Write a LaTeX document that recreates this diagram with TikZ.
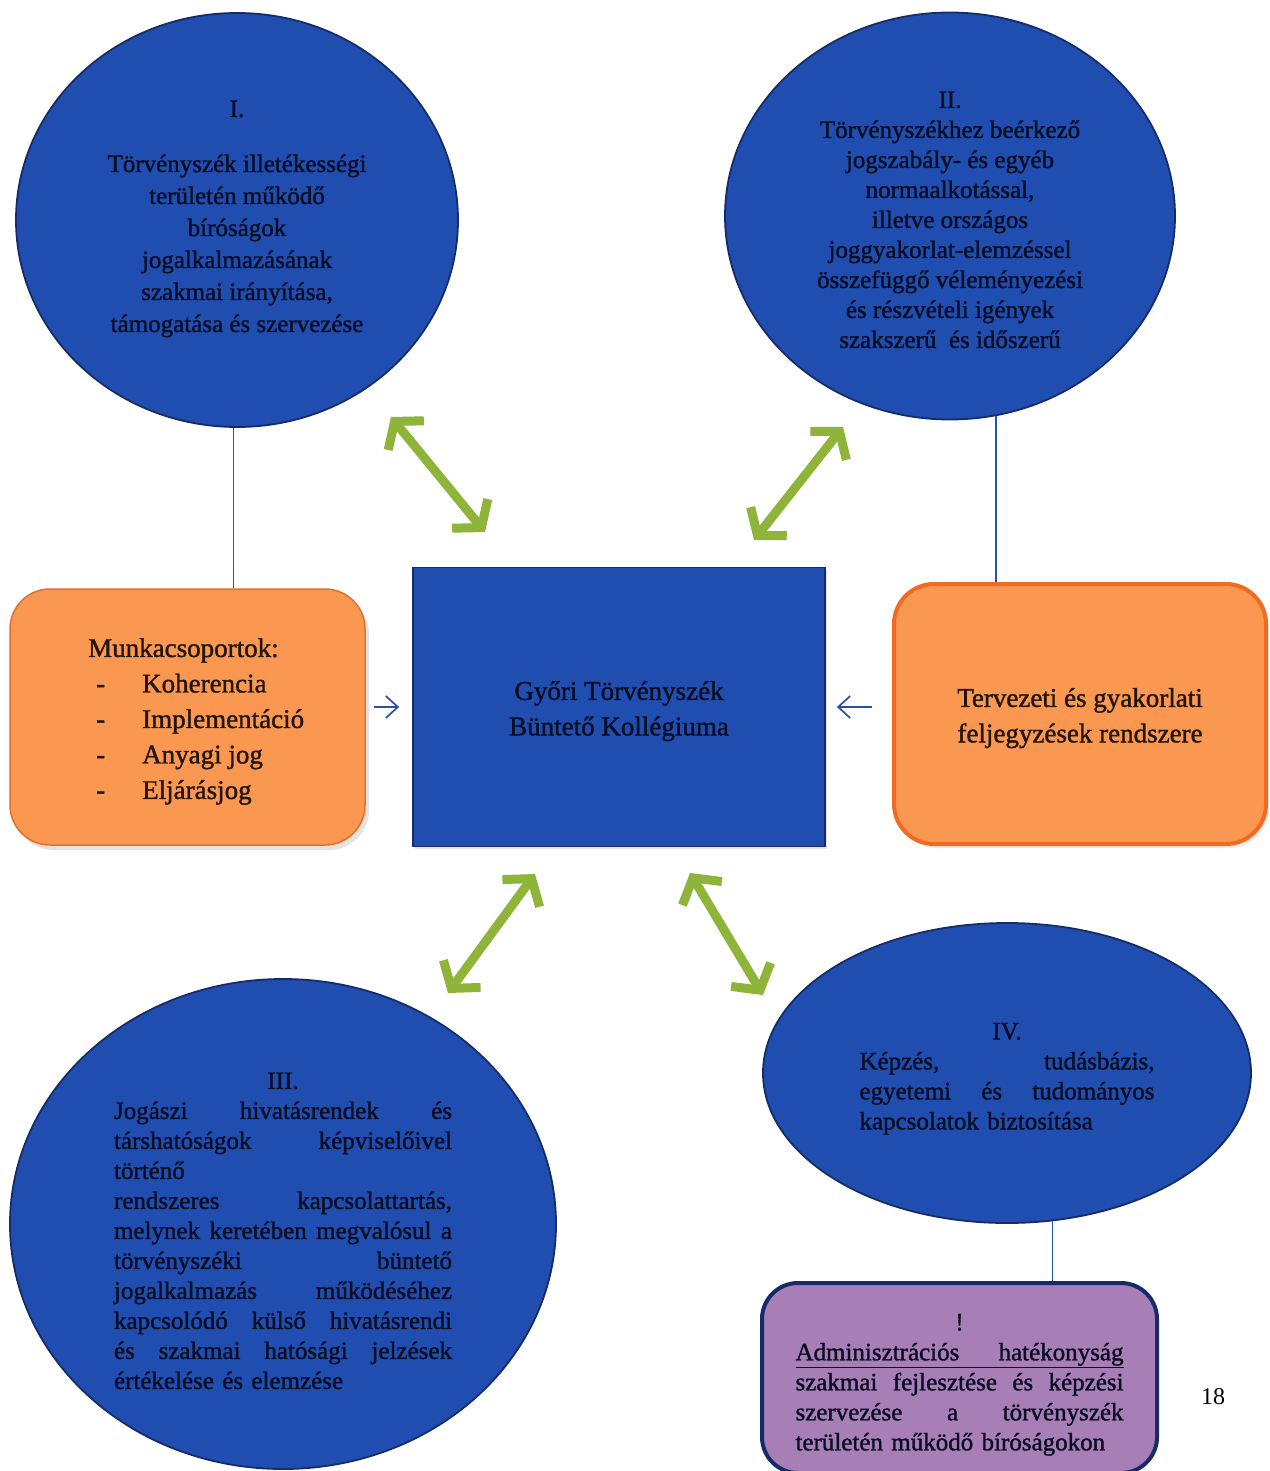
\documentclass[tikz,border=0pt]{standalone}
\usepackage{fontspec}
\setmainfont{Liberation Serif}
\newfontfamily\hvy{Liberation Serif}[FakeBold=1.4]
\usetikzlibrary{shapes.geometric,arrows.meta,shadows}
\definecolor{cblue}{RGB}{31,78,176}
\definecolor{cnavy}{RGB}{22,44,105}
\definecolor{ctxt}{RGB}{10,14,36}
\definecolor{corange}{RGB}{250,152,82}
\definecolor{corangeB}{RGB}{226,112,42}
\definecolor{corangeR}{RGB}{242,106,32}
\definecolor{cgreen}{RGB}{142,180,58}
\definecolor{cpurple}{RGB}{168,126,183}
\definecolor{cline}{RGB}{40,80,165}
\definecolor{cobtxt}{RGB}{35,22,12}
\newcommand{\st}[1]{\rule{0pt}{#1}}
\newcommand{\jl}[2]{\makebox[#1][s]{#2}}
\tikzset{
  bell/.style={ellipse, fill=cblue, draw=cnavy, line width=1.8pt, inner sep=0pt, text=ctxt},
  ctxtnode/.style={text=ctxt, align=center, inner sep=0pt},
  obox/.style={rectangle, rounded corners=40pt, fill=corange, inner sep=0pt},
  crect/.style={rectangle, fill=cblue, draw=cnavy, line width=1.8pt, inner sep=0pt},
  pbox/.style={rectangle, rounded corners=36pt, fill=cpurple, draw=cnavy, line width=4pt, inner sep=0pt, text=ctxt},
  vline/.style={draw=cline, line width=1.6pt},
  garrow/.style={draw=cgreen, line width=9pt, {Straight Barb[length=18pt,width=46pt]}-{Straight Barb[length=18pt,width=46pt]}},
  barrow/.style={draw=cline, line width=1.7pt, -{Straight Barb[length=12pt,width=22pt]}},
  fcirc/.style={font=\hvy\fontsize{25}{30}\selectfont},
  fbox/.style={font=\hvy\fontsize{27}{35.5}\selectfont}
}
\begin{document}
\begin{tikzpicture}[x=1pt,y=-1pt]
\useasboundingbox (0,0) rectangle (1269,1471);
\clip (0,0) rectangle (1269,1471);
\fill[white] (0,0) rectangle (1269,1471);

% top circles
\node[bell, minimum width=442pt, minimum height=414pt] (cI) at (237,220) {};
\node[ctxtnode, font=\hvy\fontsize{25}{32}\selectfont] (tI) at (237,219)
 {I.\\[23pt]Törvényszék illetékességi\\területén működő\\bíróságok\\jogalkalmazásának\\szakmai irányítása,\\támogatása és szervezése};

\node[bell, fcirc, align=center, minimum width=450pt, minimum height=407pt] (cII) at (950,216)
 {\st{24pt}II.\\Törvényszékhez beérkező\\jogszabály- és egyéb\\normaalkotással,\\illetve országos\\joggyakorlat-elemzéssel\\összefüggő véleményezési\\és részvételi igények\\szakszerű\ \ és időszerű};

% middle row
\node[obox, draw=corangeB, line width=1.5pt, minimum width=355pt, minimum height=256pt,
      drop shadow={shadow xshift=4pt, shadow yshift=-5pt, opacity=0.22}] (bL) at (187.5,717) {};
\node[fbox, text=cobtxt, align=left, anchor=west, inner sep=0pt] (tL) at (88,721.5)
 {Munkacsoportok:\\
  \makebox[54pt][l]{\hspace{8pt}-}Koherencia\\
  \makebox[54pt][l]{\hspace{8pt}-}Implementáció\\
  \makebox[54pt][l]{\hspace{8pt}-}Anyagi jog\\
  \makebox[54pt][l]{\hspace{8pt}-}Eljárásjog};

\node[crect, fbox, text=ctxt, align=center, minimum width=412pt, minimum height=279pt,
      drop shadow={shadow xshift=2pt, shadow yshift=-2pt, opacity=0.2}] (ctr) at (619,707)
 {\st{27pt}Győri Törvényszék\\Büntető Kollégiuma};

\node[obox, draw=corangeR, line width=4pt, fbox, text=cobtxt, align=center, minimum width=372pt, minimum height=260pt,
      drop shadow={shadow xshift=3pt, shadow yshift=-4pt, opacity=0.15}] (bR) at (1080,714)
 {\st{27pt}Tervezeti és gyakorlati\\feljegyzések rendszere};

% bottom circles
\node[bell, fcirc, align=left, text width=338pt, minimum width=546pt, minimum height=490pt] (cIII) at (283,1224)
 {\jl{338pt}{\hfill\st{30pt}III.\hfill}\\
  \jl{338pt}{Jogászi\hfill hivatásrendek\hfill és}\\
  \jl{338pt}{társhatóságok\hfill képviselőivel}\\
  történő\\
  \jl{338pt}{rendszeres\hfill kapcsolattartás,}\\
  \jl{338pt}{melynek\hfill keretében\hfill megvalósul\hfill a}\\
  \jl{338pt}{törvényszéki\hfill büntető}\\
  \jl{338pt}{jogalkalmazás\hfill működéséhez}\\
  \jl{338pt}{kapcsolódó\hfill külső\hfill hivatásrendi}\\
  \jl{338pt}{és\hfill szakmai\hfill hatósági\hfill jelzések}\\
  értékelése és elemzése};

\node[bell, fcirc, align=left, text width=295pt, minimum width=488pt, minimum height=300pt] (cIV) at (1007,1073)
 {\jl{295pt}{\hfill\st{28pt}IV.\hfill}\\
  \jl{295pt}{Képzés,\hfill tudásbázis,}\\
  \jl{295pt}{egyetemi\hfill és\hfill tudományos}\\
  kapcsolatok biztosítása};

\node[pbox, fcirc, align=left, text width=328pt, minimum width=395pt, minimum height=190pt] (pb) at (959.5,1378)
 {\jl{328pt}{\hfill\st{30pt}!\hfill}\\
  \underline{\jl{328pt}{Adminisztrációs\hfill hatékonyság}}\\
  \jl{328pt}{szakmai\hfill fejlesztése\hfill és\hfill képzési}\\
  \jl{328pt}{szervezése\hfill a\hfill törvényszék}\\
  területén működő bíróságokon};

\node[font=\fontsize{24}{28}\selectfont, text=black, inner sep=0pt] (pn) at (1213,1397) {18};

% thin connector lines
\draw[vline] (cI.-91) -- (cI.-91 |- bL.north);
\draw[vline] (cII.-77.8) -- (cII.-77.8 |- bR.north);
\draw[vline] (cIV.-73.4) -- (cIV.-73.4 |- pb.north);

% small blue arrows
\draw[barrow, shorten <=8pt, shorten >=13pt] (bL.east |- ctr.center) -- (ctr.west);
\draw[barrow, shorten <=20pt, shorten >=11pt] (bR.west |- ctr.center) -- (ctr.east);

% green double arrows
\coordinate (g1a) at (391,417); \coordinate (g1b) at (485,532);
\coordinate (g2a) at (843,427); \coordinate (g2b) at (754,540);
\coordinate (g3a) at (535,874); \coordinate (g3b) at (448,993);
\coordinate (g4a) at (690,873); \coordinate (g4b) at (763,995);
\draw[garrow] (g1a) -- (g1b);
\draw[garrow] (g2a) -- (g2b);
\draw[garrow] (g3a) -- (g3b);
\draw[garrow] (g4a) -- (g4b);
\end{tikzpicture}
\end{document}
